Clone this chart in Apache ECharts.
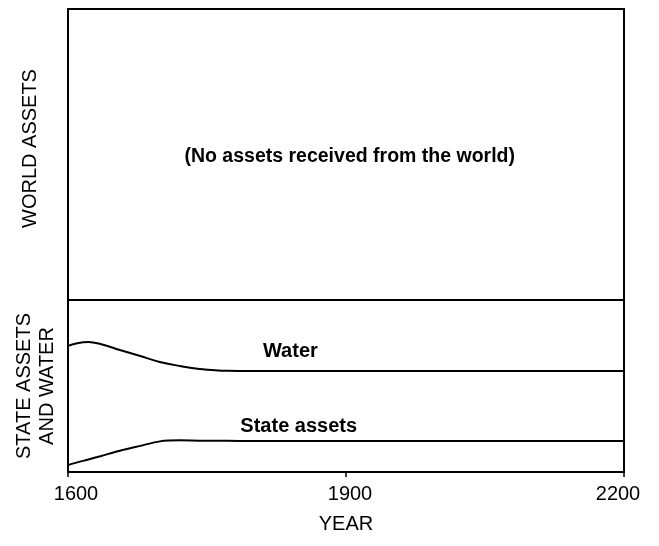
<!DOCTYPE html>
<html>
<head>
<meta charset="utf-8">
<script src="https://cdn.jsdelivr.net/npm/echarts@6/dist/echarts.min.js"></script>
<style>
  html, body { margin: 0; padding: 0; background: #fff; }
  #chart { width: 659px; height: 546px; }
</style>
</head>
<body>
<div id="chart"></div>
<script>
// Simulation years (x) and the two state-level curves (relative units, 0-100)
const years = [1600, 1610, 1622, 1635, 1656, 1678, 1699, 1721, 1742, 1772, 1800, 1900, 2000, 2100, 2200];
const waterValues = [73.3, 74.9, 75.6, 74.4, 70.9, 67.4, 64.0, 61.6, 59.9, 58.8, 58.7, 58.7, 58.7, 58.7, 58.7];
const stateAssetValues = [4.0, 5.6, 7.3, 9.2, 12.4, 15.2, 17.8, 18.4, 18.2, 18.1, 18.0, 18.0, 18.0, 18.0, 18.0];

// Axis ticks and text
const yearTicks = [1600, 1900, 2200];
const xAxisTitle = 'YEAR';
const topPanelTitle = 'WORLD ASSETS';
const bottomPanelTitle = 'STATE ASSETS\nAND WATER';
const topPanelNote = '(No assets received from the world)';
const waterLabel = 'Water';
const stateLabel = 'State assets';

// Where the curve names sit (year, value)
const waterLabelAt = [1840, 69.8];
const stateLabelAt = [1849, 26.2];
const noteAt = [1904, 49.1];

const FONT = '"Liberation Sans", Arial, Helvetica, sans-serif';
const INK = '#000';

const pair = (vals) => years.map((y, i) => [y, vals[i]]);

const chart = echarts.init(document.getElementById('chart'), null, { renderer: 'canvas' });

const textMark = (coord, text, size) => ({
  symbol: 'circle',
  symbolSize: 0,
  silent: true,
  data: [{
    coord: coord,
    label: {
      show: true,
      position: 'inside',
      formatter: text,
      color: INK,
      fontFamily: FONT,
      fontWeight: 'bold',
      fontSize: size
    }
  }]
});

const tickText = { color: INK, fontFamily: FONT, fontSize: 20 };

chart.setOption({
  animation: false,
  backgroundColor: '#fff',
  grid: [
    { left: 68, right: 35, top: 9, height: 291, show: true, borderColor: INK, borderWidth: 2, backgroundColor: 'transparent' },
    { left: 68, right: 35, top: 300, height: 172, show: true, borderColor: INK, borderWidth: 2, backgroundColor: 'transparent' }
  ],
  xAxis: [
    {
      gridIndex: 0, type: 'value', min: 1600, max: 2200,
      axisLine: { show: false }, axisTick: { show: false }, axisLabel: { show: false }, splitLine: { show: false }
    },
    {
      gridIndex: 1, type: 'value', min: 1600, max: 2200, interval: 300,
      name: xAxisTitle, nameLocation: 'middle', nameGap: 42,
      nameTextStyle: { color: INK, fontFamily: FONT, fontSize: 20 },
      axisLine: { show: true, onZero: false, lineStyle: { color: INK, width: 2 } },
      axisTick: { show: true, length: 5, lineStyle: { color: INK, width: 1.5 }, customValues: yearTicks },
      axisLabel: {
        color: INK, fontFamily: FONT, fontSize: 20, margin: 12, customValues: yearTicks,
        formatter: (v) => {
          if (v === yearTicks[0]) return '{first|' + v + '}';
          if (v === yearTicks[yearTicks.length - 1]) return '{last|' + v + '}';
          return '{mid|' + v + '}';
        },
        rich: {
          first: Object.assign({ padding: [0, 0, 0, 16] }, tickText),
          mid: Object.assign({ padding: [0, 0, 0, 8] }, tickText),
          last: Object.assign({ padding: [0, 12, 0, 0] }, tickText)
        }
      },
      splitLine: { show: false }
    }
  ],
  yAxis: [
    {
      gridIndex: 0, type: 'value', min: 0, max: 100,
      name: topPanelTitle, nameLocation: 'middle', nameRotate: 90, nameGap: 28,
      nameTextStyle: { color: INK, fontFamily: FONT, fontSize: 20, padding: [0, 0, 0, 12] },
      axisLine: { show: false }, axisTick: { show: false }, axisLabel: { show: false }, splitLine: { show: false }
    },
    {
      gridIndex: 1, type: 'value', min: 0, max: 100,
      name: bottomPanelTitle, nameLocation: 'middle', nameRotate: 90, nameGap: 9,
      nameTextStyle: { color: INK, fontFamily: FONT, fontSize: 20, lineHeight: 23, align: 'center' },
      axisLine: { show: false }, axisTick: { show: false }, axisLabel: { show: false }, splitLine: { show: false }
    }
  ],
  series: [
    {
      name: 'note', type: 'line', xAxisIndex: 0, yAxisIndex: 0, data: [],
      markPoint: textMark(noteAt, topPanelNote, 19.5)
    },
    {
      name: waterLabel, type: 'line', xAxisIndex: 1, yAxisIndex: 1,
      data: pair(waterValues), smooth: 0.4, showSymbol: false,
      lineStyle: { color: INK, width: 2 },
      markPoint: textMark(waterLabelAt, waterLabel, 20)
    },
    {
      name: stateLabel, type: 'line', xAxisIndex: 1, yAxisIndex: 1,
      data: pair(stateAssetValues), smooth: 0.3, showSymbol: false,
      lineStyle: { color: INK, width: 2 },
      markPoint: textMark(stateLabelAt, stateLabel, 20)
    }
  ]
});
</script>
</body>
</html>
